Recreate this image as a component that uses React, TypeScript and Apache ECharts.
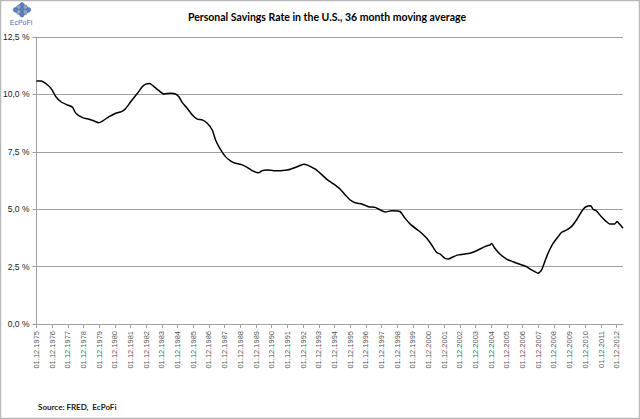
import React, { useEffect, useRef } from "react";
import * as echarts from "echarts";

// Years elapsed since 01.12.1975 (x positions of read points)
const yearsSinceDec1975 = [
  0, 0.29, 0.71, 0.97, 1.24, 1.56, 1.98, 2.3, 2.51, 2.94, 3.36, 3.68, 3.96, 4.21, 4.63,
  5.06, 5.42, 5.69, 6.01, 6.44, 6.76, 6.97, 7.22, 7.49, 7.81, 8.13, 8.56, 8.87, 9.08,
  9.3, 9.62, 9.94, 10.25, 10.57, 10.89, 11.21, 11.42, 11.69, 12.05, 12.37, 12.69,
  13.12, 13.44, 13.75, 14.17, 14.39, 14.71, 15.13, 15.55, 15.98, 16.19, 16.62, 17.04,
  17.35, 17.78, 18.1, 18.52, 18.94, 19.37, 19.69, 20.01, 20.32, 20.75, 21.17, 21.6,
  21.91, 22.23, 22.66, 23.19, 23.51, 23.82, 24.25, 24.46, 24.89, 25.2, 25.52, 25.73,
  26.05, 26.26, 26.58, 26.9, 27.32, 27.64, 28.07, 28.49, 28.7, 28.91, 29.02, 29.23,
  29.55, 29.97, 30.39, 30.82, 31.25, 31.46, 31.77, 31.98, 32.2, 32.41, 32.62, 32.94,
  33.26, 33.48, 33.79, 34.11, 34.43, 34.75, 34.96, 35.17, 35.34, 35.49, 35.7, 36.02,
  36.34, 36.55, 36.87, 37.02, 37.19, 37.4,
];

// Personal savings rate, 36 month moving average (%)
const savingsRate = [
  10.58, 10.58, 10.41, 10.22, 9.9, 9.68, 9.54, 9.44, 9.18, 8.99, 8.92, 8.84, 8.77, 8.84,
  9.03, 9.18, 9.25, 9.39, 9.68, 10.05, 10.34, 10.45, 10.48, 10.34, 10.16, 10.02, 10.05,
  10.02, 9.9, 9.64, 9.39, 9.1, 8.92, 8.89, 8.74, 8.45, 8.01, 7.65, 7.29, 7.11, 7.0,
  6.93, 6.82, 6.68, 6.59, 6.68, 6.71, 6.68, 6.68, 6.71, 6.74, 6.85, 6.96, 6.9, 6.74,
  6.56, 6.3, 6.1, 5.87, 5.62, 5.4, 5.28, 5.23, 5.11, 5.08, 4.97, 4.88, 4.93, 4.89,
  4.6, 4.36, 4.12, 4.02, 3.73, 3.44, 3.11, 3.05, 2.86, 2.83, 2.93, 3.01, 3.05, 3.08,
  3.19, 3.34, 3.4, 3.44, 3.51, 3.3, 3.05, 2.83, 2.71, 2.6, 2.5, 2.4, 2.28, 2.21, 2.35,
  2.71, 3.08, 3.51, 3.8, 3.99, 4.09, 4.24, 4.53, 4.89, 5.07, 5.14, 5.15, 5.0, 4.93,
  4.67, 4.46, 4.36, 4.36, 4.46, 4.34, 4.17,
];

const firstYear = 1975;
const tickPrefix = "01.12.";
const yTicks = [0, 2.5, 5, 7.5, 10, 12.5];

const titleText = "Personal Savings Rate in the U.S., 36 month moving average";
const sourceText = "Source: FRED,  EcPoFi";

export default function App() {
  const ref = useRef<HTMLDivElement>(null);

  useEffect(() => {
    if (!ref.current) return;
    const chart = echarts.init(ref.current, undefined, { renderer: "svg" });
    const seriesData = yearsSinceDec1975.map((t, i) => [t, savingsRate[i]]);

    const dots: any[] = [];
    for (let r = 0; r < 3; r++) {
      for (let c = 0; c < 3; c++) {
        const dx = (c - r) * 3.2;
        const dy = (c + r) * 2.4;
        dots.push({
          type: "circle",
          shape: { cx: 22 + dx, cy: 5 + dy, r: 2.4 },
          style: {
            fill: (r + c) % 2 === 0 ? "#5b7fc4" : "#9aa6b8",
            stroke: "#3d5fa3",
            lineWidth: 0.5,
          },
          silent: true,
        });
      }
    }

    chart.setOption({
      animation: false,
      backgroundColor: "#ffffff",
      title: {
        text: titleText,
        left: 322,
        textAlign: "center",
        top: 6,
        textStyle: {
          fontFamily: "Lato",
          fontWeight: "bold",
          fontSize: 10.5,
          color: "#000000",
        },
      },
      grid: { left: 36, right: 17, top: 37, bottom: 95, containLabel: false },
      xAxis: {
        type: "value",
        min: 0,
        max: yearsSinceDec1975[yearsSinceDec1975.length - 1],
        interval: 1,
        axisLine: { show: true, lineStyle: { color: "#a0a0a0", width: 1 } },
        axisTick: { show: true, length: 4, lineStyle: { color: "#a0a0a0" } },
        splitLine: { show: false },
        axisLabel: {
          rotate: 90,
          margin: 7,
          fontSize: 7.5,
          fontFamily: "Liberation Sans",
          color: "#555555",
          showMaxLabel: false,
          formatter: (v: number) =>
            Math.abs(v - Math.round(v)) < 1e-6 ? tickPrefix + (firstYear + Math.round(v)) : "",
        },
      },
      yAxis: {
        type: "value",
        min: yTicks[0],
        max: yTicks[yTicks.length - 1],
        interval: 2.5,
        axisLine: { show: true, lineStyle: { color: "#a0a0a0", width: 1 } },
        axisTick: { show: true, length: 4, lineStyle: { color: "#a0a0a0" } },
        splitLine: { show: true, lineStyle: { color: "#a0a0a0", width: 1 } },
        axisLabel: {
          margin: 7,
          fontSize: 8.5,
          fontFamily: "Liberation Sans",
          color: "#222222",
          formatter: (v: number) => v.toFixed(1).replace(".", ",") + " %",
        },
      },
      series: [
        {
          type: "line",
          data: seriesData,
          showSymbol: false,
          smooth: 0.2,
          lineStyle: { color: "#000000", width: 1.5 },
          silent: true,
        },
      ],
      graphic: [
        {
          type: "rect",
          shape: { x: 0.5, y: 0.5, width: 639, height: 418 },
          style: { fill: "none", stroke: "#b8b8b8", lineWidth: 1.5 },
          silent: true,
        },
        ...dots,
        {
          type: "text",
          x: 21,
          y: 19,
          style: {
            text: "EcPoFi",
            fontSize: 7,
            fontFamily: "Liberation Sans",
            fill: "#5070b0",
            align: "center",
          },
          silent: true,
        },
        {
          type: "text",
          x: 38,
          y: 403,
          style: {
            text: sourceText,
            fontSize: 8,
            fontWeight: "bold",
            fontFamily: "Lato",
            fill: "#1a1a1a",
          },
          silent: true,
        },
      ],
    });
    return () => chart.dispose();
  }, []);

  return (
    <div
      ref={ref}
      style={{ position: "fixed", left: 0, top: 0, width: 640, height: 419 }}
    />
  );
}
